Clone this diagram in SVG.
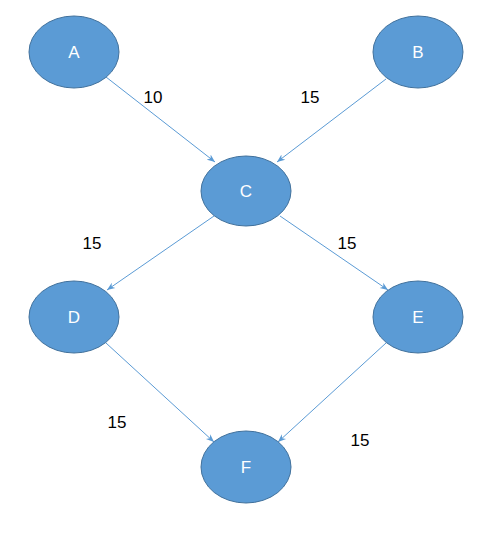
<svg xmlns="http://www.w3.org/2000/svg" width="484" height="537" viewBox="0 0 484 537">
<defs>
<style>
.node ellipse{fill:#5B9BD5;stroke:#41719C;stroke-width:1}
.node text{fill:#FFFFFF;font-family:"Liberation Sans",Arial,sans-serif;font-size:17px;text-anchor:middle;dominant-baseline:central}
.edge{stroke:#5B9BD5;stroke-width:1;fill:none;marker-end:url(#arr)}
.lbl{fill:#000;font-family:"Liberation Sans",Arial,sans-serif;font-size:17px;text-anchor:middle;dominant-baseline:central}
</style>
<marker id="arr" viewBox="0 0 10 10" refX="10" refY="5" markerWidth="8" markerHeight="8" markerUnits="userSpaceOnUse" orient="auto">
<path d="M0,1 L10,5 L0,9 L3,5 Z" fill="#5B9BD5"/>
</marker>
</defs>
<rect width="484" height="537" fill="#FFFFFF"/>
<g id="connectors">
<line class="edge" x1="106" y1="77" x2="215" y2="162"/>
<line class="edge" x1="386" y1="79" x2="277" y2="162"/>
<line class="edge" x1="214" y1="216" x2="107" y2="290"/>
<line class="edge" x1="280" y1="216" x2="388" y2="290"/>
<line class="edge" x1="106" y1="343" x2="214" y2="442"/>
<line class="edge" x1="386" y1="343" x2="278" y2="442"/>
</g>
<g id="labels">
<text class="lbl" x="153" y="97">10</text>
<text class="lbl" x="310" y="97">15</text>
<text class="lbl" x="92" y="243">15</text>
<text class="lbl" x="347" y="243">15</text>
<text class="lbl" x="117" y="422">15</text>
<text class="lbl" x="360" y="440">15</text>
</g>
<g id="A" class="node"><ellipse cx="74" cy="52" rx="45" ry="36"/><text x="74" y="52">A</text></g>
<g id="B" class="node"><ellipse cx="418" cy="52" rx="45" ry="36"/><text x="418" y="52">B</text></g>
<g id="C" class="node"><ellipse cx="246" cy="191" rx="45" ry="35"/><text x="246" y="191">C</text></g>
<g id="D" class="node"><ellipse cx="74" cy="317" rx="45" ry="36"/><text x="74" y="317">D</text></g>
<g id="E" class="node"><ellipse cx="418" cy="317" rx="45" ry="36"/><text x="418" y="317">E</text></g>
<g id="F" class="node"><ellipse cx="246" cy="467" rx="45" ry="36"/><text x="246" y="467">F</text></g>
</svg>
